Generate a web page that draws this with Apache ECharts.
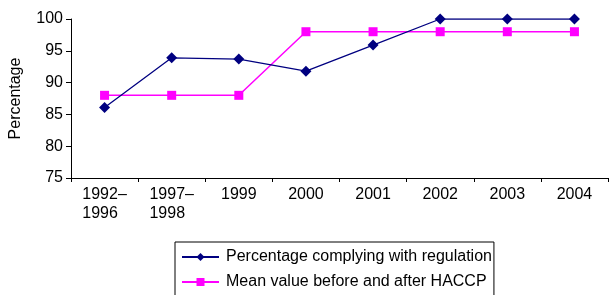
<!DOCTYPE html>
<html>
<head>
<meta charset="utf-8">
<script src="https://cdn.jsdelivr.net/npm/echarts@6/dist/echarts.min.js"></script>
<style>
html,body{margin:0;padding:0;background:#fff;}
#main{width:611px;height:295px;}
</style>
</head>
<body>
<div id="main"></div>
<script>
var categories = ['1992–\n1996', '1997–\n1998', '1999', '2000', '2001', '2002', '2003', '2004'];
var complying = [86.1, 93.9, 93.7, 91.8, 95.9, 100, 100, 100];
var meanValue = [88, 88, 88, 98, 98, 98, 98, 98];
var yTicks = [75, 100, 5]; // min, max, interval

var font = 'Liberation Sans, Arial, sans-serif';

// two-line labels are left aligned inside their block
function catLabel(v) {
	return v.split('\n').map(function (s) { return '{a|' + s + '}'; }).join('\n');
}

var option = {
	animation: false,
	backgroundColor: '#ffffff',
	textStyle: { fontFamily: font },
	grid: {
		left: 70,
		right: 3,
		top: 19,
		bottom: 117
	},
	legend: {
		orient: 'vertical',
		left: 175,
		top: 242,
		height: 80,
		padding: [7, 2, 16, 6],
		itemGap: 9,
		itemWidth: 37,
		itemHeight: 10,
		borderColor: '#000000',
		borderWidth: 1,
		textStyle: { color: '#000000', fontSize: 16, fontFamily: font, padding: [0, 0, 0, 2] },
		data: ['Percentage complying with regulation', 'Mean value before and after HACCP']
	},
	xAxis: {
		type: 'category',
		data: categories,
		boundaryGap: true,
		axisLine: { lineStyle: { color: '#000000', width: 1 } },
		axisTick: { show: true, alignWithLabel: false, length: 4, lineStyle: { color: '#000000' } },
		axisLabel: {
			color: '#000000',
			fontSize: 16,
			fontFamily: font,
			margin: 7,
			lineHeight: 19,
			interval: 0,
			formatter: catLabel,
			rich: {
				a: { align: 'left', color: '#000000', fontSize: 16, fontFamily: font, lineHeight: 19 }
			}
		},
		splitLine: { show: false }
	},
	yAxis: {
		type: 'value',
		min: yTicks[0],
		max: yTicks[1],
		interval: yTicks[2],
		name: 'Percentage',
		nameLocation: 'middle',
		nameGap: 47,
		nameTextStyle: { color: '#000000', fontSize: 16, fontFamily: font },
		axisLine: { show: true, lineStyle: { color: '#000000', width: 1 } },
		axisTick: { show: true, length: 5, lineStyle: { color: '#000000' } },
		axisLabel: { color: '#000000', fontSize: 16, fontFamily: font, margin: 8 },
		splitLine: { show: false }
	},
	series: [{
		name: 'Percentage complying with regulation',
		type: 'line',
		data: complying,
		symbol: 'diamond',
		symbolSize: 11,
		showAllSymbol: true,
		color: '#000080',
		lineStyle: { color: '#000080', width: 1.3 },
		itemStyle: { color: '#000080' },
		z: 3
	}, {
		name: 'Mean value before and after HACCP',
		type: 'line',
		data: meanValue,
		symbol: 'rect',
		symbolSize: 9,
		showAllSymbol: true,
		color: '#ff00ff',
		lineStyle: { color: '#ff00ff', width: 1.5 },
		itemStyle: { color: '#ff00ff' },
		z: 2
	}]
};

var myChart = echarts.init(document.getElementById('main'));
myChart.setOption(option, true);
</script>
</body>
</html>
